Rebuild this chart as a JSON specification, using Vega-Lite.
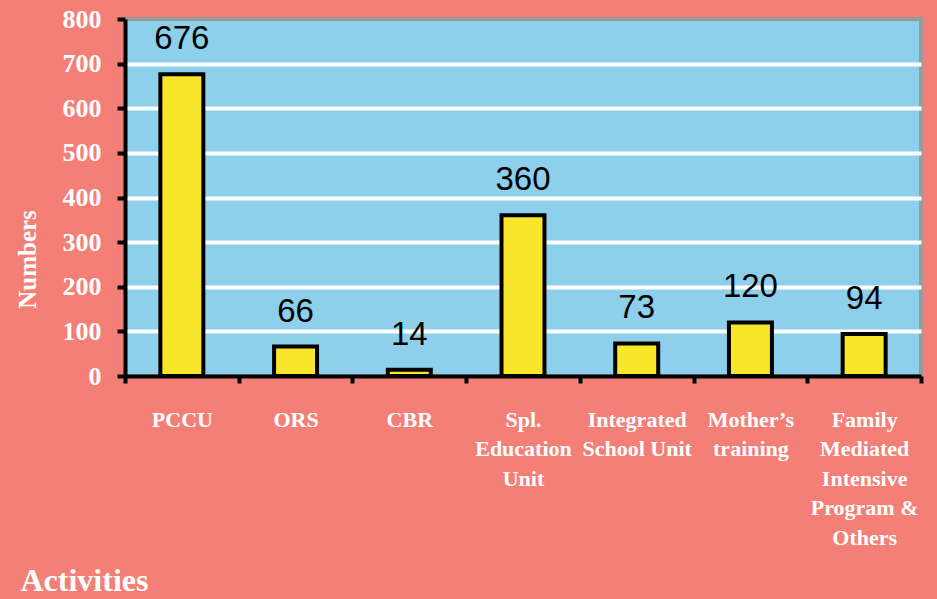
{
  "$schema": "https://vega.github.io/schema/vega-lite/v6.json",
  "width": 796,
  "height": 357,
  "autosize": "none",
  "padding": {"left": 125, "top": 19, "right": 16, "bottom": 223},
  "background": "#F37F77",
  "data": {
    "values": [
      {"activity": "PCCU", "value": 676},
      {"activity": "ORS", "value": 66},
      {"activity": "CBR", "value": 14},
      {"activity": "Spl. Education Unit", "value": 360},
      {"activity": "Integrated School Unit", "value": 73},
      {"activity": "Mother’s training", "value": 120},
      {"activity": "Family Mediated Intensive Program & Others", "value": 94}
    ]
  },
  "encoding": {
    "x": {
      "field": "activity",
      "type": "nominal",
      "sort": null,
      "scale": {"paddingInner": 0, "paddingOuter": 0},
      "axis": {
        "tickBand": "extent",
        "domainColor": "#000000",
        "domainWidth": 4,
        "tickColor": "#000000",
        "tickWidth": 4,
        "tickSize": 7,
        "grid": false,
        "labelAngle": 0,
        "labelFont": "Liberation Serif",
        "labelFontWeight": "bold",
        "labelFontSize": 22,
        "labelColor": "#FFFFFF",
        "labelBaseline": "top",
        "labelPadding": 26,
        "labelLineHeight": 29.5,
        "labelLimit": 0,
        "labelOverlap": false,
        "labelExpr": "datum.value == 'Spl. Education Unit' ? ['Spl.', 'Education', 'Unit'] : datum.value == 'Integrated School Unit' ? ['Integrated', 'School Unit'] : datum.value == 'Mother’s training' ? ['Mother’s', 'training'] : datum.value == 'Family Mediated Intensive Program & Others' ? ['Family', 'Mediated', 'Intensive', 'Program &', 'Others'] : datum.value",
        "title": "Activities",
        "titleFont": "Liberation Serif",
        "titleFontWeight": "bold",
        "titleFontSize": 32,
        "titleColor": "#FFFFFF",
        "titleAlign": "left",
        "titleBaseline": "alphabetic",
        "titleX": -105,
        "titleY": 214
      }
    },
    "y": {
      "field": "value",
      "type": "quantitative",
      "scale": {"domain": [0, 800], "nice": false},
      "axis": {
        "values": [0, 100, 200, 300, 400, 500, 600, 700, 800],
        "domainColor": "#000000",
        "domainWidth": 4,
        "tickColor": "#000000",
        "tickWidth": 4,
        "tickSize": 8,
        "grid": true,
        "gridColor": "#FFFFFF",
        "gridWidth": 4,
        "gridOpacity": {"condition": {"test": "datum.value == 800 || datum.value == 0", "value": 0}, "value": 1},
        "labelFont": "Liberation Serif",
        "labelFontWeight": "bold",
        "labelFontSize": 26,
        "labelColor": "#FFFFFF",
        "labelPadding": 16,
        "title": "Numbers",
        "titleFont": "Liberation Serif",
        "titleFontWeight": "bold",
        "titleFontSize": 25,
        "titleColor": "#FFFFFF",
        "titleAngle": -90,
        "titleAlign": "center",
        "titleBaseline": "middle",
        "titleX": -98,
        "titleY": 240
      }
    }
  },
  "layer": [
    {
      "mark": {
        "type": "bar",
        "width": {"band": 0.378},
        "fill": "#F7E629",
        "stroke": "#000000",
        "strokeWidth": 4
      }
    },
    {
      "mark": {
        "type": "text",
        "font": "Liberation Sans",
        "fontSize": 33,
        "baseline": "alphabetic",
        "dy": -25,
        "color": "#000000"
      },
      "encoding": {"text": {"field": "value", "type": "quantitative"}}
    }
  ],
  "config": {
    "view": {"fill": "#8ECFEC", "stroke": "#9A9A9A", "strokeWidth": 4}
  }
}
